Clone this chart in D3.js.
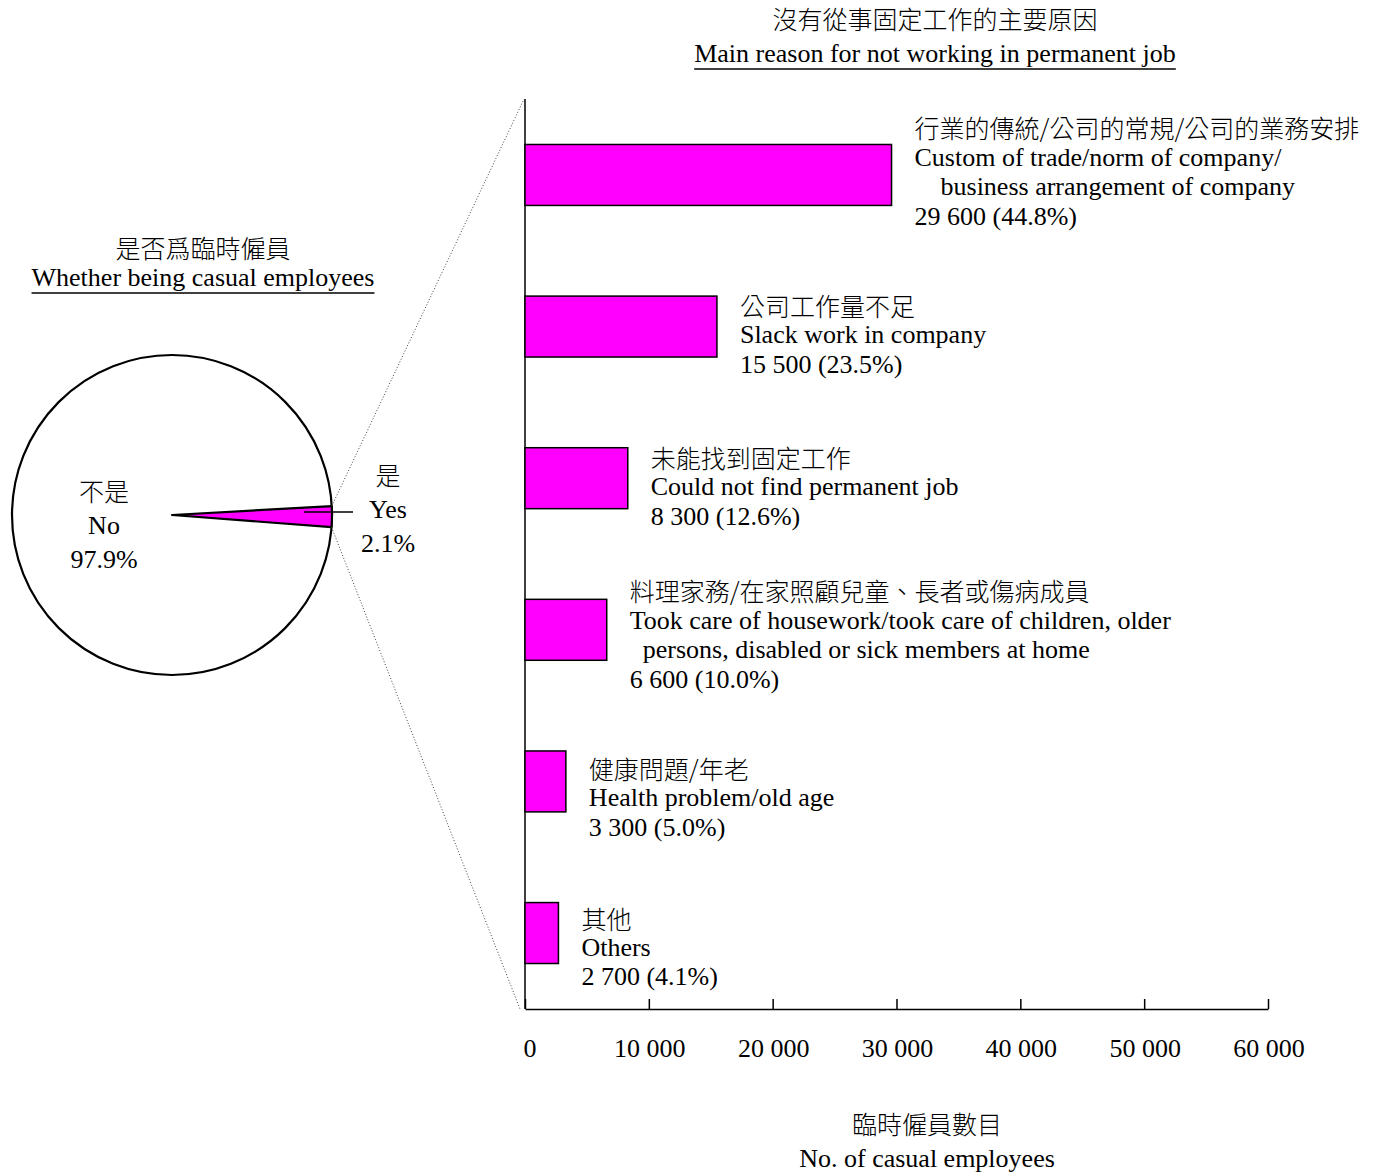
<!DOCTYPE html>
<html>
<head>
<meta charset="utf-8">
<script src="https://cdn.jsdelivr.net/npm/d3@7"></script>
<style>
  body { margin: 0; background: #fff; }
  text { font-family: "Liberation Serif", "Times New Roman", serif; fill: #000; }
  .cjk { font-family: "Noto Sans CJK TC", "Noto Sans CJK SC", sans-serif; font-weight: 300; }
</style>
</head>
<body>
<div id="chart"></div>
<script>
// Pie data: whether being casual employees
const pieKeys = ["Yes", "No"];
const pieValues = [2.1, 97.9];
const pieLabelsZh = ["是", "不是"];
const pieLabelsEn = ["Yes", "No"];

// Bar data: main reason for not working in permanent job
const reasons = ["trade", "slack", "notfind", "housework", "health", "others"];
const reasonValues = [29600, 15500, 8300, 6600, 3300, 2700];
const reasonPct = ["44.8%", "23.5%", "12.6%", "10.0%", "5.0%", "4.1%"];
const reasonZh = [
  "行業的傳統/公司的常規/公司的業務安排",
  "公司工作量不足",
  "未能找到固定工作",
  "料理家務/在家照顧兒童、長者或傷病成員",
  "健康問題/年老",
  "其他"
];
const reasonEn = [
  ["Custom of trade/norm of company/", "    business arrangement of company"],
  ["Slack work in company"],
  ["Could not find permanent job"],
  ["Took care of housework/took care of children, older", "  persons, disabled or sick members at home"],
  ["Health problem/old age"],
  ["Others"]
];
const xTicks = [0, 10000, 20000, 30000, 40000, 50000, 60000];

// layout
const width = 1386, height = 1173;
const pieCx = 172, pieCy = 515, pieR = 160;
const axisTop = 99, axisBottom = 1009;
const labelOffset = [-17, 9, 9, -9, 17, 15]; // first label line centre vs bar top
const lineH = 29.7;
const enSize = "26px", zhSize = "25px";

const fmt = n => d3.format(",")(n).replace(/,/g, " ");

const svg = d3.select("#chart").append("svg")
  .attr("width", width)
  .attr("height", height);

// title with underline drawn under the descenders
function underlinedTitle(cx, zhY, zh, en, enY, lineY) {
  svg.append("text").attr("class", "cjk")
    .attr("x", cx).attr("y", zhY).attr("text-anchor", "middle")
    .attr("dominant-baseline", "central").style("font-size", zhSize)
    .text(zh);
  const t = svg.append("text")
    .attr("x", cx).attr("y", enY).attr("text-anchor", "middle")
    .attr("dominant-baseline", "central").style("font-size", enSize)
    .text(en);
  const w = t.node().getComputedTextLength();
  svg.append("line")
    .attr("x1", cx - w / 2).attr("x2", cx + w / 2)
    .attr("y1", lineY).attr("y2", lineY)
    .attr("stroke", "#000").attr("stroke-width", 1.5);
}

// ---------- pie ----------
underlinedTitle(203, 247, "是否爲臨時僱員", "Whether being casual employees", 277, 293);

const a0 = (90 - 3.2) * Math.PI / 180;
const pie = d3.pie().sort(null).startAngle(a0).endAngle(a0 + 2 * Math.PI);
const arcs = pie(pieValues);
const arc = d3.arc().innerRadius(0).outerRadius(pieR);

const pieG = svg.append("g").attr("transform", `translate(${pieCx},${pieCy})`);

pieG.append("circle").attr("r", pieR)
  .attr("fill", "#fff").attr("stroke", "#000").attr("stroke-width", 2.2);

pieG.append("path")
  .attr("d", arc(arcs[0]))
  .attr("fill", "#ff00ff").attr("stroke", "#000").attr("stroke-width", 2.2)
  .attr("stroke-linejoin", "round");

// leader line for the small slice
svg.append("line")
  .attr("x1", 304).attr("y1", 512).attr("x2", 353).attr("y2", 512)
  .attr("stroke", "#000").attr("stroke-width", 1.5);

// pie labels
const pieLabelPos = [[388, 474], [104, 490]];
arcs.forEach((d, i) => {
  const [lx, ly] = pieLabelPos[i];
  svg.append("text").attr("class", "cjk")
    .attr("x", lx).attr("y", ly).attr("text-anchor", "middle")
    .attr("dominant-baseline", "central").style("font-size", zhSize)
    .text(pieLabelsZh[i]);
  svg.append("text")
    .attr("x", lx).attr("y", ly + 35).attr("text-anchor", "middle")
    .attr("dominant-baseline", "central").style("font-size", enSize)
    .text(pieLabelsEn[i]);
  svg.append("text")
    .attr("x", lx).attr("y", ly + 69).attr("text-anchor", "middle")
    .attr("dominant-baseline", "central").style("font-size", enSize)
    .text(d3.format(".1f")(pieValues[i]) + "%");
});

// dotted connector lines from slice edge to bar axis
const edge = ang => [pieCx + pieR * Math.sin(ang), pieCy - pieR * Math.cos(ang)];
const pTop = edge(arcs[0].startAngle), pBot = edge(arcs[0].endAngle);
svg.append("line")
  .attr("x1", pTop[0]).attr("y1", pTop[1]).attr("x2", 524).attr("y2", axisTop)
  .attr("stroke", "#444").attr("stroke-width", 1).attr("stroke-dasharray", "1,2");
svg.append("line")
  .attr("x1", pBot[0]).attr("y1", pBot[1]).attr("x2", 520).attr("y2", axisBottom)
  .attr("stroke", "#444").attr("stroke-width", 1).attr("stroke-dasharray", "1,2");

// ---------- bar chart ----------
underlinedTitle(935, 18, "沒有從事固定工作的主要原因", "Main reason for not working in permanent job", 53, 69);

const x = d3.scaleLinear().domain([0, 60000]).range([525, 1268]);
const y = d3.scaleBand().domain(reasons).range([axisTop, axisBottom])
  .paddingInner(0.598).paddingOuter(0.3);

// y axis line
svg.append("line")
  .attr("x1", x(0)).attr("x2", x(0)).attr("y1", axisTop).attr("y2", axisBottom)
  .attr("stroke", "#000").attr("stroke-width", 1.5);

// x axis with inward ticks
const xAxis = svg.append("g")
  .attr("transform", `translate(0,${axisBottom})`)
  .call(d3.axisTop(x).tickValues(xTicks).tickSize(10).tickSizeOuter(0).tickFormat(""));
xAxis.select(".domain").attr("stroke", "#000").attr("stroke-width", 1.5);
xAxis.selectAll(".tick line").attr("stroke", "#000").attr("stroke-width", 1.5);

svg.append("g").selectAll("text").data(xTicks).join("text")
  .attr("x", d => x(d) + (d === 0 ? 5 : 1)).attr("y", 1048)
  .attr("text-anchor", "middle").attr("dominant-baseline", "central")
  .style("font-size", enSize)
  .text(d => fmt(d));

svg.selectAll("rect.bar").data(reasons).join("rect")
  .attr("class", "bar")
  .attr("x", x(0))
  .attr("y", d => y(d))
  .attr("width", (d, i) => x(reasonValues[i]) - x(0))
  .attr("height", y.bandwidth())
  .attr("fill", "#ff00ff").attr("stroke", "#000").attr("stroke-width", 1.5);

// bar labels
reasons.forEach((r, i) => {
  const lx = x(reasonValues[i]) + 23;
  let ly = y(r) + labelOffset[i];
  svg.append("text").attr("class", "cjk")
    .attr("x", lx).attr("y", ly).attr("dominant-baseline", "central")
    .style("font-size", zhSize)
    .text(reasonZh[i]);
  reasonEn[i].concat([fmt(reasonValues[i]) + " (" + reasonPct[i] + ")"]).forEach((t, j) => {
    svg.append("text")
      .attr("x", lx).attr("y", ly + lineH * (j + 1))
      .attr("dominant-baseline", "central")
      .style("font-size", enSize).style("white-space", "pre")
      .text(t);
  });
});

svg.append("text").attr("class", "cjk")
  .attr("x", 927).attr("y", 1123).attr("text-anchor", "middle")
  .attr("dominant-baseline", "central").style("font-size", zhSize)
  .text("臨時僱員數目");
svg.append("text")
  .attr("x", 927).attr("y", 1158).attr("text-anchor", "middle")
  .attr("dominant-baseline", "central").style("font-size", enSize)
  .text("No. of casual employees");
</script>
</body>
</html>
